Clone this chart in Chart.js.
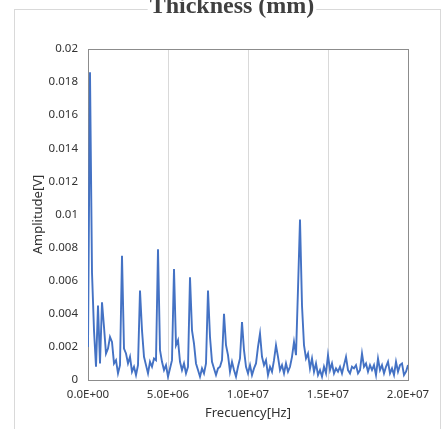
<!DOCTYPE html>
<html>
<head>
<meta charset="utf-8">
<style>
  html, body { margin: 0; padding: 0; background: #fff; }
  canvas { display: block; }
</style>
<script src="https://cdn.jsdelivr.net/npm/chart.js@4.4.0/dist/chart.umd.min.js"></script>
</head>
<body>
<canvas id="spectrum" width="444" height="429"></canvas>
<script>
// samples every 0.125 MHz from 0 to 20 MHz
const freqStepHz = 125000;
const amplitudes = [
  0.0020, 0.0186, 0.0065, 0.0030, 0.0008, 0.0045, 0.0010, 0.0047, 0.0032, 0.0016,
  0.0019, 0.0026, 0.0023, 0.0010, 0.0012, 0.0004, 0.0009, 0.0075, 0.0019, 0.0016,
  0.0010, 0.0014, 0.0005, 0.0008, 0.0003, 0.0009, 0.0054, 0.0030, 0.0014, 0.0009,
  0.0004, 0.0011, 0.0008, 0.0013, 0.0012, 0.0079, 0.0018, 0.0011, 0.0006, 0.0009,
  0.0002, 0.0007, 0.0012, 0.0067, 0.0021, 0.0024, 0.0011, 0.0006, 0.0010, 0.0004,
  0.0008, 0.0062, 0.0030, 0.0022, 0.0010, 0.0006, 0.0002, 0.0007, 0.0004, 0.0010,
  0.0054, 0.0026, 0.0011, 0.0007, 0.0003, 0.0007, 0.0008, 0.0012, 0.0040, 0.0021,
  0.0015, 0.0005, 0.0011, 0.0006, 0.0002, 0.0008, 0.0013, 0.0035, 0.0018, 0.0008,
  0.0004, 0.0009, 0.0003, 0.0007, 0.0010, 0.0020, 0.0028, 0.0014, 0.0009, 0.0012,
  0.0003, 0.0008, 0.0005, 0.0012, 0.0021, 0.0014, 0.0006, 0.0009, 0.0004, 0.0010,
  0.0005, 0.0008, 0.0014, 0.0023, 0.0015, 0.0055, 0.0097, 0.0045, 0.0021, 0.0013,
  0.0016, 0.0007, 0.0013, 0.0005, 0.0010, 0.0003, 0.0006, 0.0002, 0.0008, 0.0004,
  0.0015, 0.0006, 0.0010, 0.0004, 0.0007, 0.0005, 0.0008, 0.0004, 0.0009, 0.0014,
  0.0006, 0.0004, 0.0008, 0.0007, 0.0009, 0.0004, 0.0006, 0.0016, 0.0008, 0.0010,
  0.0005, 0.0009, 0.0006, 0.0009, 0.0003, 0.0013, 0.0006, 0.0009, 0.0004, 0.0008,
  0.0011, 0.0004, 0.0007, 0.0003, 0.0011, 0.0005, 0.0009, 0.0010, 0.0003, 0.0005,
  0.0009
];
const xTickLabels = ['0.0E+00', '5.0E+06', '1.0E+07', '1.5E+07', '2.0E+07'];
const yTickLabels = ['0', '0.002', '0.004', '0.006', '0.008', '0.01', '0.012', '0.014', '0.016', '0.018', '0.02'];

const points = amplitudes.map((a, i) => ({ x: i * freqStepHz, y: a }));

const tickFont = { family: '"Noto Sans", sans-serif', size: 11.5 };
const titleFont = { family: '"Noto Sans", sans-serif', size: 13 };

// outer frame, plot box and the (clipped) chart title
const decorations = {
  id: 'decorations',
  beforeDraw(chart) {
    const ctx = chart.ctx;
    ctx.save();
    ctx.strokeStyle = '#d9d9d9';
    ctx.lineWidth = 1;
    ctx.strokeRect(14.5, 9.5, 426, 430);
    ctx.restore();
  },
  beforeDatasetsDraw(chart) {
    const { ctx, chartArea: a } = chart;
    ctx.save();
    ctx.strokeStyle = '#8c8c8c';
    ctx.lineWidth = 1;
    ctx.strokeRect(Math.round(a.left) + 0.5, Math.round(a.top) + 0.5,
      Math.round(a.right - a.left), Math.round(a.bottom - a.top));
    ctx.restore();
  },
  afterDraw(chart) {
    const ctx = chart.ctx;
    ctx.save();
    ctx.font = 'bold 24px "Liberation Serif", serif';
    ctx.textAlign = 'center';
    ctx.textBaseline = 'alphabetic';
    const w = ctx.measureText('Thickness (mm)').width;
    ctx.fillStyle = '#fff';
    ctx.fillRect(232 - w / 2 - 2, 0, w + 4, 16);
    ctx.fillStyle = '#404040';
    ctx.fillText('Thickness (mm)', 232, 13);
    ctx.restore();
  }
};

new Chart(document.getElementById('spectrum'), {
  type: 'line',
  data: {
    datasets: [{
      data: points,
      borderColor: '#4472c4',
      borderWidth: 1.9,
      pointRadius: 0,
      tension: 0,
      fill: false
    }]
  },
  options: {
    responsive: false,
    animation: false,
    devicePixelRatio: 1,
    layout: { padding: { top: 49, right: 36, bottom: 0, left: 0 } },
    plugins: { legend: { display: false }, tooltip: { enabled: false } },
    scales: {
      x: {
        type: 'linear',
        min: 0,
        max: 20000000,
        afterFit: s => { s.height = 49; },
        ticks: {
          stepSize: 5000000,
          padding: 8,
          color: '#333333',
          font: tickFont,
          maxRotation: 0,
          callback: (v, i) => xTickLabels[i]
        },
        grid: { color: '#d9d9d9', drawTicks: false },
        border: { display: false },
        title: {
          display: true,
          text: 'Frecuency[Hz]',
          color: '#333333',
          font: titleFont,
          padding: { top: 0, bottom: 8 }
        }
      },
      y: {
        min: 0,
        max: 0.02,
        afterFit: s => { s.width = 88; },
        ticks: {
          stepSize: 0.002,
          padding: 10,
          color: '#333333',
          font: tickFont,
          callback: (v, i) => yTickLabels[i]
        },
        grid: { display: false, drawTicks: false },
        border: { display: false },
        title: {
          display: true,
          text: 'Amplitude[V]',
          color: '#333333',
          font: titleFont,
          padding: { top: 30, bottom: 0 }
        }
      }
    }
  },
  plugins: [decorations]
});
</script>
</body>
</html>
